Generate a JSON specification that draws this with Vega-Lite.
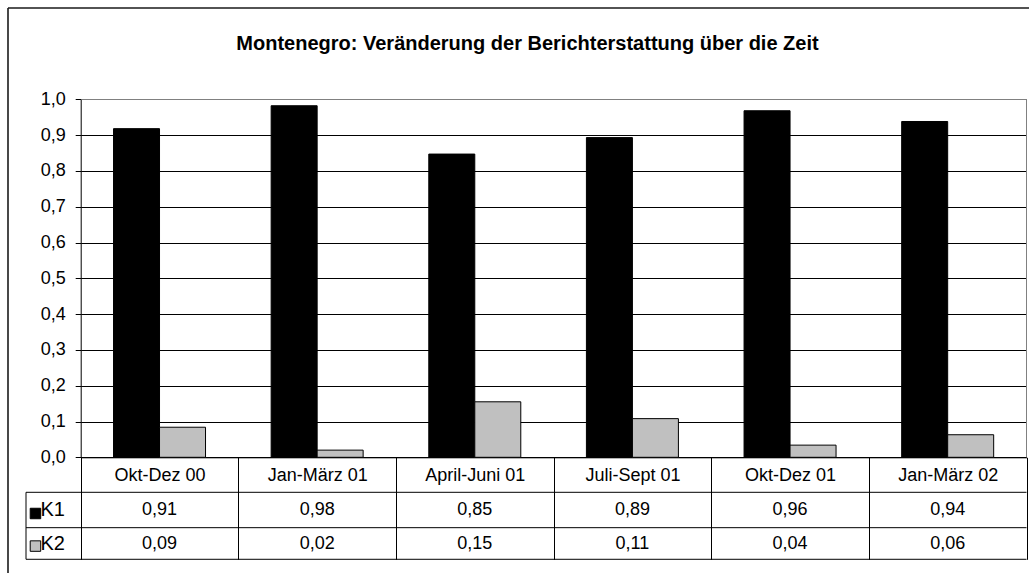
{
  "$schema": "https://vega.github.io/schema/vega-lite/v6.json",
  "width": 1029,
  "height": 573,
  "autosize": "none",
  "padding": 0,
  "background": "white",
  "title": {
    "text": "Montenegro: Veränderung der Berichterstattung über die Zeit",
    "font": "Liberation Sans",
    "fontSize": 20,
    "fontWeight": "bold",
    "color": "black",
    "anchor": "middle",
    "frame": "group",
    "orient": "top",
    "baseline": "alphabetic",
    "offset": -70,
    "dx": 13
  },
  "datasets": {
    "main": [
      {"period": "Okt-Dez 00", "series": "K1", "value": 0.918, "shown": "0,91"},
      {"period": "Okt-Dez 00", "series": "K2", "value": 0.084, "shown": "0,09"},
      {"period": "Jan-März 01", "series": "K1", "value": 0.982, "shown": "0,98"},
      {"period": "Jan-März 01", "series": "K2", "value": 0.020, "shown": "0,02"},
      {"period": "April-Juni 01", "series": "K1", "value": 0.847, "shown": "0,85"},
      {"period": "April-Juni 01", "series": "K2", "value": 0.155, "shown": "0,15"},
      {"period": "Juli-Sept 01", "series": "K1", "value": 0.893, "shown": "0,89"},
      {"period": "Juli-Sept 01", "series": "K2", "value": 0.108, "shown": "0,11"},
      {"period": "Okt-Dez 01", "series": "K1", "value": 0.968, "shown": "0,96"},
      {"period": "Okt-Dez 01", "series": "K2", "value": 0.034, "shown": "0,04"},
      {"period": "Jan-März 02", "series": "K1", "value": 0.938, "shown": "0,94"},
      {"period": "Jan-März 02", "series": "K2", "value": 0.063, "shown": "0,06"}
    ]
  },
  "data": {"name": "main"},
  "layer": [
    {
      "mark": {"type": "bar", "stroke": "black", "strokeWidth": 1},
      "encoding": {
        "x": {
          "field": "period",
          "type": "nominal",
          "scale": {
            "domain": ["Okt-Dez 00", "Jan-März 01", "April-Juni 01", "Juli-Sept 01", "Okt-Dez 01", "Jan-März 02"],
            "range": [80.7, 1026.5],
            "paddingInner": 0,
            "paddingOuter": 0
          },
          "axis": {
            "orient": "bottom",
            "offset": -115.7,
            "title": null,
            "labelAngle": 0,
            "grid": false,
            "domainColor": "black",
            "domainWidth": 1,
            "tickBand": "extent",
            "tickSize": 102,
            "tickColor": "black",
            "tickWidth": 1,
            "labelFont": "Liberation Sans",
            "labelFontSize": 18,
            "labelColor": "black",
            "labelPadding": -93
          }
        },
        "xOffset": {
          "field": "series",
          "type": "nominal",
          "scale": {"domain": ["K1", "K2"], "paddingInner": 0, "paddingOuter": 0.7134}
        },
        "y": {
          "field": "value",
          "type": "quantitative",
          "scale": {"domain": [0, 1], "range": [457.3, 99.3], "nice": false, "zero": false},
          "axis": {
            "offset": -80.7,
            "title": null,
            "values": [0, 0.1, 0.2, 0.3, 0.4, 0.5, 0.6, 0.7, 0.8, 0.9, 1],
            "labelExpr": "replace(format(datum.value, '.1f'), '.', ',')",
            "labelFont": "Liberation Sans",
            "labelFontSize": 18,
            "labelColor": "black",
            "labelPadding": 10,
            "tickSize": 5.5,
            "tickColor": "black",
            "domainColor": "black",
            "grid": true,
            "gridColor": {"condition": {"test": "datum.value == 1", "value": "#808080"}, "value": "black"},
            "gridWidth": 1
          }
        },
        "color": {
          "field": "series",
          "type": "nominal",
          "scale": {"domain": ["K1", "K2"], "range": ["#000000", "#c0c0c0"]},
          "legend": null
        }
      }
    },
    {
      "transform": [{"filter": "datum.series == 'K1'"}],
      "mark": {"type": "text", "font": "Liberation Sans", "fontSize": 18, "color": "black", "baseline": "middle", "align": "center"},
      "encoding": {
        "x": {"field": "period", "type": "nominal"},
        "y": {"datum": -0.147, "type": "quantitative"},
        "text": {"field": "shown"}
      }
    },
    {
      "transform": [{"filter": "datum.series == 'K2'"}],
      "mark": {"type": "text", "font": "Liberation Sans", "fontSize": 18, "color": "black", "baseline": "middle", "align": "center"},
      "encoding": {
        "x": {"field": "period", "type": "nominal"},
        "y": {"datum": -0.2408, "type": "quantitative"},
        "text": {"field": "shown"}
      }
    },
    {
      "data": {"values": [{}]},
      "mark": {"type": "rule", "color": "#808080", "strokeWidth": 1},
      "encoding": {
        "x": {"datum": "Jan-März 02", "type": "nominal", "bandPosition": 1},
        "y": {"datum": 0, "type": "quantitative"},
        "y2": {"datum": 1}
      }
    },
    {
      "data": {"values": [{}]},
      "mark": {"type": "rule", "color": "black", "strokeWidth": 1},
      "encoding": {
        "x": {"datum": "Okt-Dez 00", "type": "nominal", "bandPosition": -0.347},
        "x2": {"datum": "Jan-März 02", "bandPosition": 1},
        "y": {"datum": -0.0978, "type": "quantitative"}
      }
    },
    {
      "data": {"values": [{}]},
      "mark": {"type": "rule", "color": "black", "strokeWidth": 1},
      "encoding": {
        "x": {"datum": "Okt-Dez 00", "type": "nominal", "bandPosition": -0.347},
        "x2": {"datum": "Jan-März 02", "bandPosition": 1},
        "y": {"datum": -0.1966, "type": "quantitative"}
      }
    },
    {
      "data": {"values": [{}]},
      "mark": {"type": "rule", "color": "black", "strokeWidth": 1},
      "encoding": {
        "x": {"datum": "Okt-Dez 00", "type": "nominal", "bandPosition": -0.347},
        "x2": {"datum": "Jan-März 02", "bandPosition": 1},
        "y": {"datum": -0.2849, "type": "quantitative"}
      }
    },
    {
      "data": {"values": [{}]},
      "mark": {"type": "rule", "color": "black", "strokeWidth": 1},
      "encoding": {
        "x": {"datum": "Okt-Dez 00", "type": "nominal", "bandPosition": -0.347},
        "y": {"datum": -0.0978, "type": "quantitative"},
        "y2": {"datum": -0.2849}
      }
    },
    {
      "data": {"values": [{}]},
      "mark": {"type": "point", "shape": "square", "size": 110, "filled": true, "fill": "#000000", "stroke": "black", "strokeWidth": 1, "opacity": 1},
      "encoding": {
        "x": {"datum": "Okt-Dez 00", "type": "nominal", "bandPosition": -0.287},
        "y": {"datum": -0.157, "type": "quantitative"}
      }
    },
    {
      "data": {"values": [{}]},
      "mark": {"type": "point", "shape": "square", "size": 110, "filled": true, "fill": "#c0c0c0", "stroke": "black", "strokeWidth": 1, "opacity": 1},
      "encoding": {
        "x": {"datum": "Okt-Dez 00", "type": "nominal", "bandPosition": -0.287},
        "y": {"datum": -0.248, "type": "quantitative"}
      }
    },
    {
      "data": {"values": [{"series": "K1"}]},
      "mark": {"type": "text", "font": "Liberation Sans", "fontSize": 20, "color": "black", "baseline": "middle", "align": "left"},
      "encoding": {
        "x": {"datum": "Okt-Dez 00", "type": "nominal", "bandPosition": -0.255},
        "y": {"datum": -0.1472, "type": "quantitative"},
        "text": {"field": "series"}
      }
    },
    {
      "data": {"values": [{"series": "K2"}]},
      "mark": {"type": "text", "font": "Liberation Sans", "fontSize": 20, "color": "black", "baseline": "middle", "align": "left"},
      "encoding": {
        "x": {"datum": "Okt-Dez 00", "type": "nominal", "bandPosition": -0.255},
        "y": {"datum": -0.2408, "type": "quantitative"},
        "text": {"field": "series"}
      }
    },
    {
      "data": {"values": [{}]},
      "mark": {"type": "rule", "color": "#1a1a1a", "strokeWidth": 1.6},
      "encoding": {
        "x": {"datum": "Okt-Dez 00", "type": "nominal", "bandPosition": -0.4612},
        "x2": {"datum": "Jan-März 02", "bandPosition": 1.3},
        "y": {"datum": 1.255, "type": "quantitative"}
      }
    },
    {
      "data": {"values": [{}]},
      "mark": {"type": "rule", "color": "#1a1a1a", "strokeWidth": 1.6},
      "encoding": {
        "x": {"datum": "Okt-Dez 00", "type": "nominal", "bandPosition": -0.4612},
        "y": {"datum": 1.255, "type": "quantitative"},
        "y2": {"datum": -0.5}
      }
    }
  ],
  "config": {
    "view": {"stroke": null},
    "font": "Liberation Sans"
  }
}
